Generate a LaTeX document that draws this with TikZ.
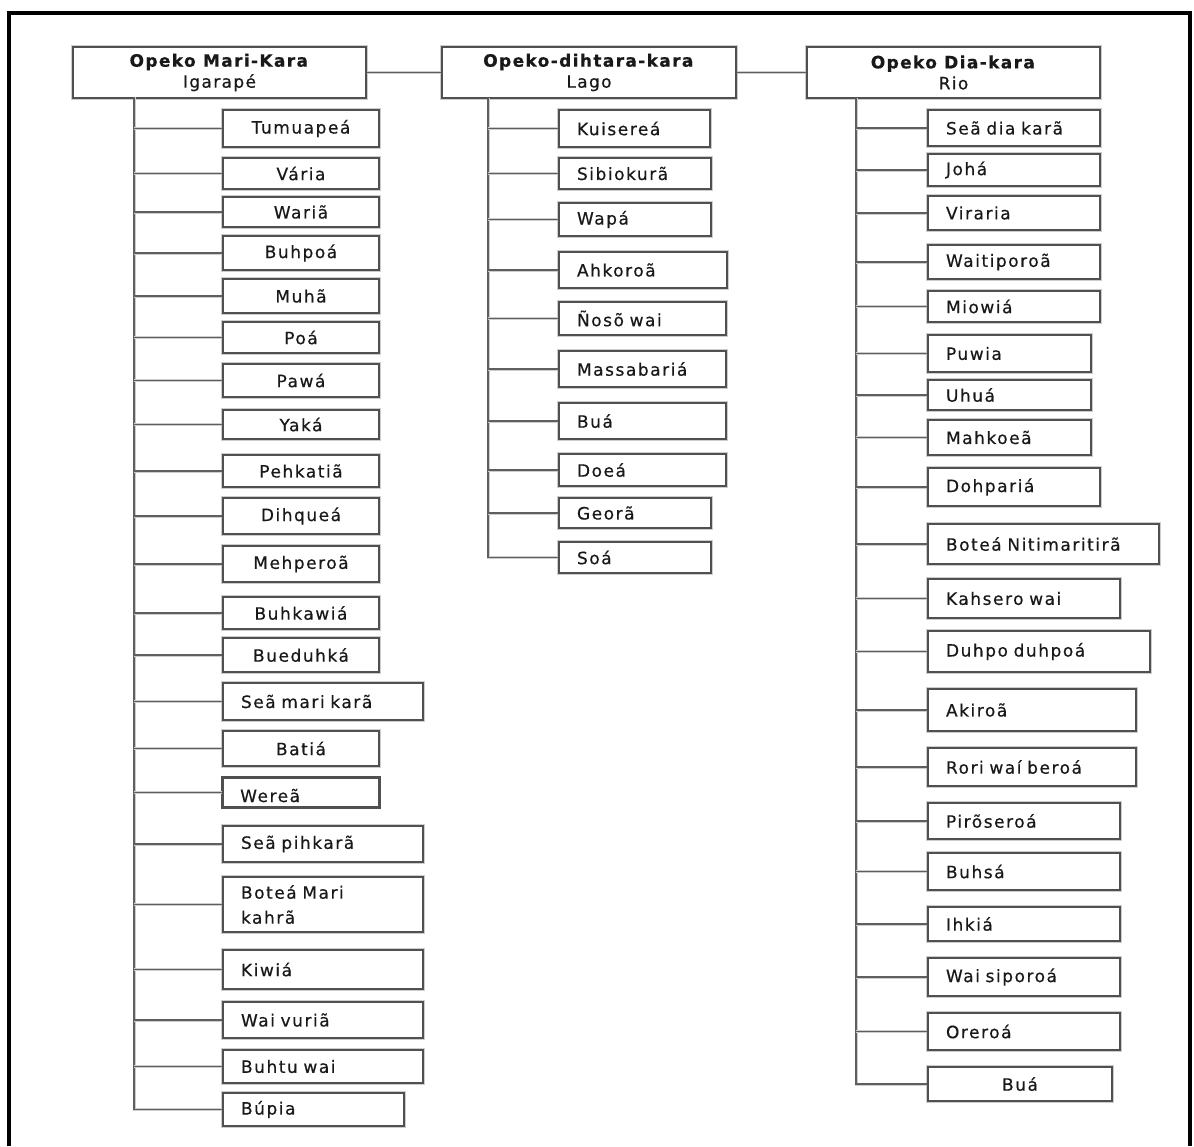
\documentclass[tikz,border=0pt]{standalone}
\usepackage{fontspec}
\setmainfont{DejaVu Sans}[LetterSpace=9, WordSpace=2.0, FakeBold=0.5]
\newfontfamily\headfont{DejaVu Sans}[LetterSpace=8, FakeBold=0.5]
\usetikzlibrary{calc}

\definecolor{boxline}{RGB}{80,80,80}
\definecolor{wire}{RGB}{95,95,95}
\definecolor{halo}{RGB}{205,205,205}
\definecolor{ink}{RGB}{25,25,25}

\tikzset{
  basebox/.style={draw=boxline, line width=2pt, fill=white,
    preaction={draw=halo, line width=4.5pt},
    inner xsep=18pt, inner ysep=0pt, text=ink,
    font=\fontsize{17}{25}\selectfont},
  headbox/.style={basebox, align=center, inner xsep=4pt,
    font=\headfont\fontsize{17}{25}\selectfont},
  wireline/.style={draw=wire, line width=1.8pt,
    preaction={draw=halo, line width=3pt}},
}

% leaf box: [alignment]{name}{x1}{y1}{x2}{y2}{text}
\newcommand\mkleaf[7][left]{%
  \pgfmathsetmacro\lbw{#5-#3}%
  \pgfmathsetmacro\lbh{#6-#4}%
  \pgfmathsetmacro\ltw{#5-#3-36}%
  \node[basebox, align=#1, anchor=north west,
        minimum width=\lbw pt, minimum height=\lbh pt,
        text width=\ltw pt] (#2) at (#3,#4) {#7};}

\begin{document}
\begin{tikzpicture}[x=1pt,y=-1pt]
\useasboundingbox (0,0) rectangle (1194,1146);

% outer frame
\draw[line width=3.5pt, black] (9,1146) -- (9,13) -- (1190,13) -- (1190,1146);

% headers
\node[headbox, anchor=north west, minimum width=293pt, minimum height=51pt] (h1) at (72,46)
  {\textbf{Opeko Mari-Kara}\\[-4pt]Igarapé};
\node[headbox, anchor=north west, minimum width=294pt, minimum height=51pt] (h2) at (441,46)
  {\textbf{Opeko-dihtara-kara}\\[-4pt]Lago};
\node[headbox, anchor=north west, minimum width=293pt, minimum height=51pt] (h3) at (806,46)
  {\textbf{Opeko Dia-kara}\\[-4pt]Rio};
\draw[wireline] (h1.east) -- (h2.west);
\draw[wireline] (h2.east) -- (h3.west);

% column 1
\mkleaf[center]{c1a}{222}{109}{378}{146}{Tumuapeá}
\mkleaf[center]{c1b}{222}{157}{378}{188}{Vária}
\mkleaf[center]{c1c}{222}{196}{378}{226}{Wariã}
\mkleaf[center]{c1d}{222}{235}{378}{269}{Buhpoá}
\mkleaf[center]{c1e}{222}{278}{378}{312}{Muhã}
\mkleaf[center]{c1f}{222}{321}{378}{352}{Poá}
\mkleaf[center]{c1g}{222}{363}{378}{396}{Pawá}
\mkleaf[center]{c1h}{222}{409}{378}{438}{Yaká}
\mkleaf[center]{c1i}{222}{454}{378}{486}{Pehkatiã}
\mkleaf[center]{c1j}{222}{497}{378}{533}{Dihqueá}
\mkleaf[center]{c1k}{222}{545}{378}{581}{Mehperoã}
\mkleaf[center]{c1l}{222}{596}{378}{628}{Buhkawiá}
\mkleaf[center]{c1m}{222}{637}{378}{671}{Bueduhká}
\mkleaf{c1n}{222}{682}{422}{719}{Seã mari karã}
\mkleaf[center]{c1o}{222}{730}{378}{765}{Batiá}
\mkleaf{c1p}{222}{777}{378}{806}{}
\begin{scope}
  \clip ([xshift=1pt,yshift=1pt]c1p.south west) rectangle ([xshift=-1pt,yshift=-1pt]c1p.north east);
  \node[anchor=base west, inner sep=0pt, text=ink, font=\fontsize{17}{25}\selectfont]
    (c1p-t) at ([xshift=18pt]c1p.south west |- 0,802) {Wereã};
\end{scope}
\draw[draw=boxline, line width=2pt] (c1p.south west) rectangle (c1p.north east);
\mkleaf{c1q}{222}{825}{422}{861}{Seã pihkarã}
\mkleaf{c1r}{222}{876}{422}{931}{Boteá Mari\\kahrã}
\mkleaf{c1s}{222}{949}{422}{988}{Kiwiá}
\mkleaf{c1t}{222}{1001}{422}{1037}{Wai vuriã}
\mkleaf{c1u}{222}{1049}{422}{1082}{Buhtu wai}
\mkleaf{c1v}{222}{1092}{403}{1125}{Búpia}

\coordinate (t1) at (134,97);
\draw[wireline] (t1) |- (c1v.west);
\foreach \n in {c1a,c1b,c1c,c1d,c1e,c1f,c1g,c1h,c1i,c1j,c1k,c1l,c1m,c1n,c1o,c1p,c1q,c1r,c1s,c1t,c1u}
  \draw[wireline] (t1 |- \n.west) -- (\n.west);

% column 2
\mkleaf{c2a}{558}{109}{709}{146}{Kuisereá}
\mkleaf{c2b}{558}{157}{710}{188}{Sibiokurã}
\mkleaf{c2c}{558}{202}{710}{235}{Wapá}
\mkleaf{c2d}{558}{251}{726}{287}{Ahkoroã}
\mkleaf{c2e}{558}{301}{725}{334}{Ñosõ wai}
\mkleaf{c2f}{558}{350}{725}{386}{Massabariá}
\mkleaf{c2g}{558}{402}{725}{438}{Buá}
\mkleaf{c2h}{558}{453}{725}{485}{Doeá}
\mkleaf{c2i}{558}{497}{710}{527}{Georã}
\mkleaf{c2j}{558}{541}{710}{572}{Soá}

\coordinate (t2) at (488,98);
\draw[wireline] (t2) |- (c2j.west);
\foreach \n in {c2a,c2b,c2c,c2d,c2e,c2f,c2g,c2h,c2i}
  \draw[wireline] (t2 |- \n.west) -- (\n.west);

% column 3
\mkleaf{c3a}{927}{109}{1099}{145}{Seã dia karã}
\mkleaf{c3b}{927}{153}{1099}{185}{Johá}
\mkleaf{c3c}{927}{195}{1099}{229}{Viraria}
\mkleaf{c3d}{927}{244}{1099}{278}{Waitiporoã}
\mkleaf{c3e}{927}{290}{1099}{321}{Miowiá}
\mkleaf{c3f}{927}{334}{1090}{371}{Puwia}
\mkleaf{c3g}{927}{379}{1090}{409}{Uhuá}
\mkleaf{c3h}{927}{419}{1090}{454}{Mahkoeã}
\mkleaf{c3i}{927}{467}{1099}{505}{Dohpariá}
\mkleaf{c3j}{927}{523}{1158}{563}{Boteá Nitimaritirã}
\mkleaf{c3k}{927}{578}{1119}{617}{Kahsero wai}
\mkleaf{c3l}{927}{630}{1149}{671}{Duhpo duhpoá}
\mkleaf{c3m}{927}{688}{1135}{730}{Akiroã}
\mkleaf{c3n}{927}{747}{1135}{785}{Rori waí beroá}
\mkleaf{c3o}{927}{802}{1119}{838}{Pirõseroá}
\mkleaf{c3p}{927}{852}{1119}{889}{Buhsá}
\mkleaf{c3q}{927}{906}{1119}{940}{Ihkiá}
\mkleaf{c3r}{927}{957}{1119}{995}{Wai siporoá}
\mkleaf{c3s}{927}{1012}{1119}{1049}{Oreroá}
\mkleaf[center]{c3t}{927}{1066}{1111}{1100}{Buá}

\coordinate (t3) at (856,98);
\draw[wireline] (t3) |- (c3t.west);
\foreach \n in {c3a,c3b,c3c,c3d,c3e,c3f,c3g,c3h,c3i,c3j,c3k,c3l,c3m,c3n,c3o,c3p,c3q,c3r,c3s}
  \draw[wireline] (t3 |- \n.west) -- (\n.west);

\end{tikzpicture}
\end{document}
